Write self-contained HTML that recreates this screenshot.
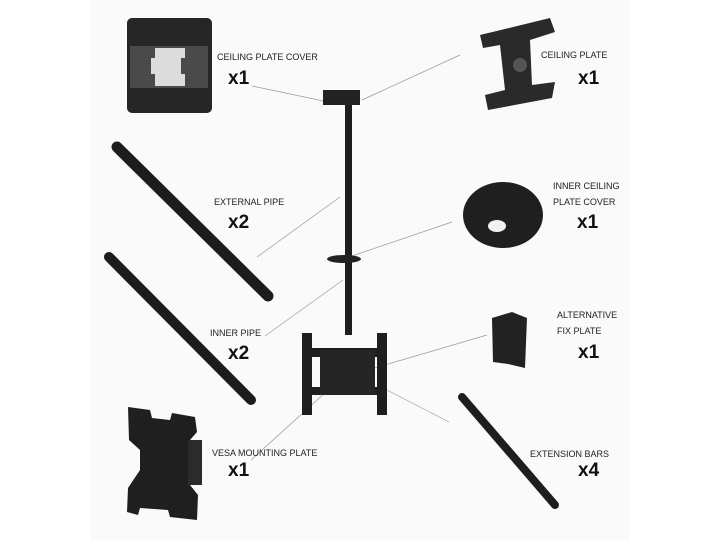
<!DOCTYPE html>
<html><head><meta charset="utf-8"><style>
html,body{margin:0;padding:0;background:#fff}
svg{display:block}
.l{font-family:"Liberation Sans",sans-serif;font-size:9px;fill:#222}
.b{font-family:"Liberation Sans",sans-serif;font-size:19px;font-weight:bold;fill:#111}
</style></head><body>
<svg width="720" height="540" viewBox="0 0 720 540" xmlns="http://www.w3.org/2000/svg">
<rect width="720" height="540" fill="#fff"/>
<rect x="90" y="0" width="540" height="540" fill="#fafafa"/>
<g stroke="#999" stroke-width="0.7">
<line x1="252" y1="86" x2="333" y2="103"/>
<line x1="460" y1="55" x2="362" y2="100"/>
<line x1="257" y1="257" x2="340" y2="197"/>
<line x1="452" y1="222" x2="352" y2="256"/>
<line x1="265" y1="336" x2="343" y2="280"/>
<line x1="487" y1="335" x2="368" y2="370"/>
<line x1="449" y1="422" x2="383" y2="388"/>
<line x1="251" y1="460" x2="337" y2="382"/>
</g>
<!-- ceiling plate cover -->
<rect x="127" y="18" width="85" height="95" rx="5" fill="#262626"/>
<rect x="130" y="46" width="78" height="42" fill="#4a4a4a"/>
<path d="M155 48 h30 v10 h-4 v16 h4 v12 h-30 v-12 h-4 v-16 h4z" fill="#dcdcdc"/>
<!-- ceiling plate -->
<path d="M480 35 L550 18 L555 32 L530 40 L532 85 L555 82 L552 98 L488 110 L485 95 L505 90 L500 45 L483 48 Z" fill="#2a2a2a"/>
<circle cx="520" cy="65" r="7" fill="#555"/>
<!-- center assembly -->
<rect x="323" y="90" width="37" height="15" fill="#222"/>
<rect x="345" y="105" width="7" height="230" fill="#1e1e1e"/>
<ellipse cx="344" cy="259" rx="17" ry="4" fill="#222"/>
<rect x="302" y="333" width="10" height="82" fill="#1e1e1e"/>
<rect x="377" y="333" width="10" height="82" fill="#1e1e1e"/>
<rect x="302" y="348" width="85" height="9" fill="#1e1e1e"/>
<rect x="302" y="387" width="85" height="8" fill="#1e1e1e"/>
<rect x="320" y="350" width="55" height="45" fill="#252525"/>
<!-- pipes -->
<line x1="117" y1="147" x2="268" y2="296" stroke="#1c1c1c" stroke-width="11" stroke-linecap="round"/>
<line x1="109" y1="257" x2="251" y2="400" stroke="#1c1c1c" stroke-width="10" stroke-linecap="round"/>
<!-- inner ceiling plate cover -->
<ellipse cx="503" cy="215" rx="40" ry="33" fill="#1f1f1f"/>
<ellipse cx="497" cy="226" rx="9" ry="6" fill="#f2f2f2"/>
<!-- alt fix plate -->
<path d="M492 318 L512 312 L527 318 L525 368 L508 364 L493 362 Z" fill="#222"/>
<!-- extension bar -->
<line x1="462" y1="397" x2="555" y2="505" stroke="#1e1e1e" stroke-width="8" stroke-linecap="round"/>
<!-- vesa plate -->
<path d="M128 407 L150 410 L152 418 L170 420 L172 413 L195 417 L197 432 L190 440 L190 485 L198 495 L197 520 L170 517 L168 510 L140 508 L138 515 L127 512 L128 488 L140 470 L140 450 L129 440 Z" fill="#1f1f1f"/>
<rect x="188" y="440" width="14" height="45" fill="#2b2b2b"/>
<!-- labels -->
<text class="l" x="217" y="60">CEILING PLATE COVER</text>
<text class="b" x="228" y="84">x1</text>
<text class="l" x="541" y="58">CEILING PLATE</text>
<text class="b" x="578" y="84">x1</text>
<text class="l" x="214" y="205">EXTERNAL PIPE</text>
<text class="b" x="228" y="228">x2</text>
<text class="l" x="553" y="189">INNER CEILING</text>
<text class="l" x="553" y="205">PLATE COVER</text>
<text class="b" x="577" y="228">x1</text>
<text class="l" x="210" y="336">INNER PIPE</text>
<text class="b" x="228" y="359">x2</text>
<text class="l" x="557" y="318">ALTERNATIVE</text>
<text class="l" x="557" y="334">FIX PLATE</text>
<text class="b" x="578" y="358">x1</text>
<text class="l" x="212" y="456">VESA MOUNTING PLATE</text>
<text class="b" x="228" y="476">x1</text>
<text class="l" x="530" y="457">EXTENSION BARS</text>
<text class="b" x="578" y="476">x4</text>
</svg>
</body></html>
